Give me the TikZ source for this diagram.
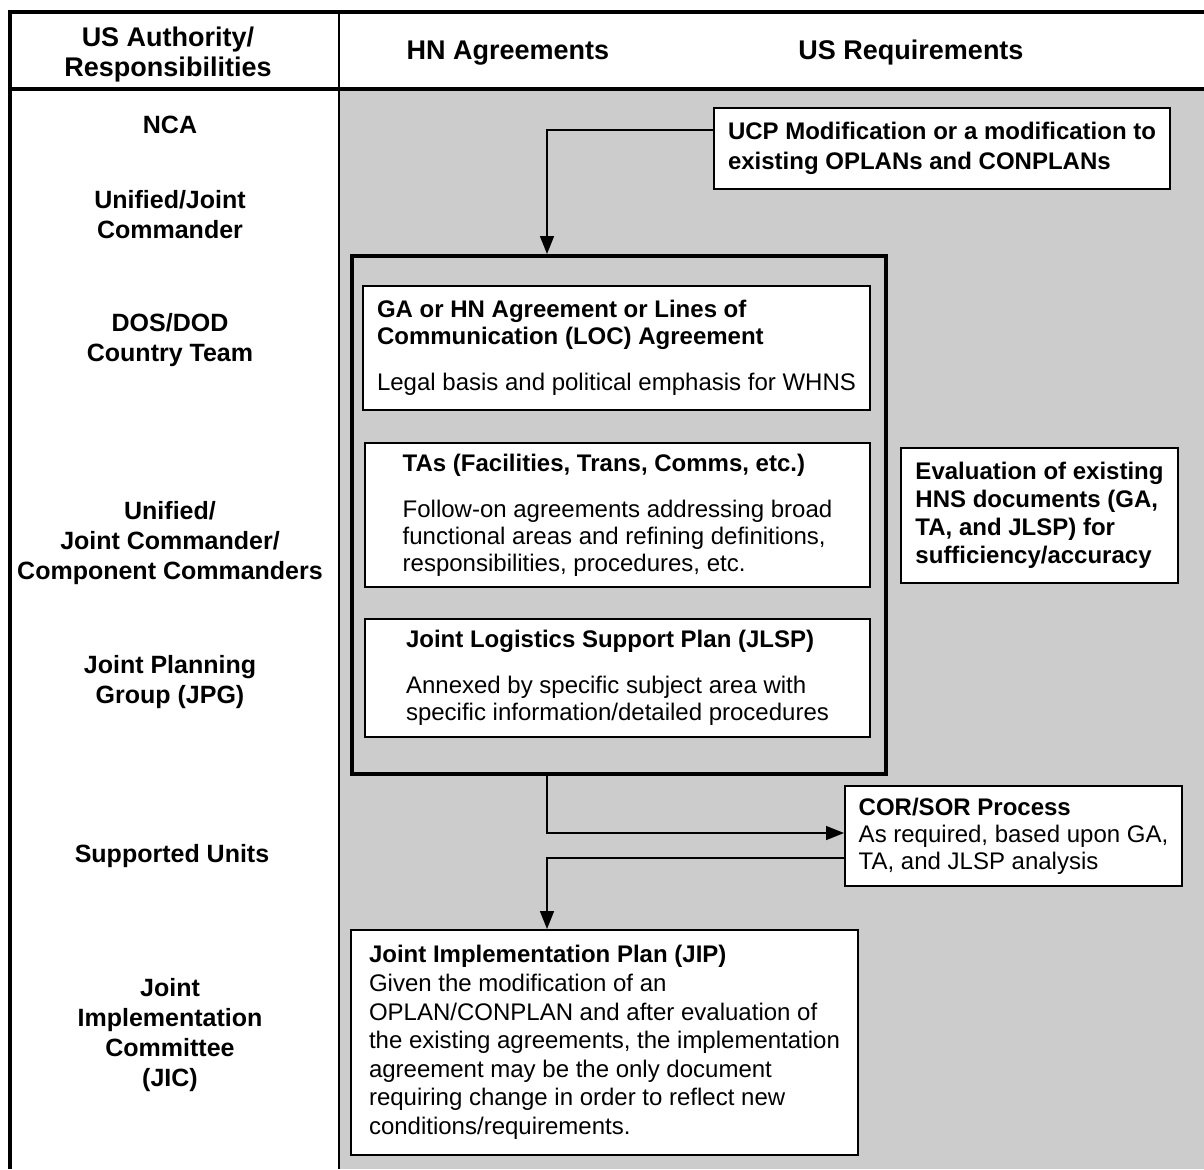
\documentclass[tikz,border=0pt]{standalone}
\usepackage{fontspec}
\setmainfont{Liberation Sans}
\usetikzlibrary{arrows.meta}
\tikzstyle{box} = [draw=black, line width=1pt, fill=white, align=left, inner sep=0pt, font={\fontsize{12}{13.5}\selectfont}]
\tikzstyle{group} = [draw=black, line width=2pt, inner sep=0pt]
\tikzstyle{lbl} = [align=center, font={\fontsize{12.5}{15}\selectfont\bfseries}]
\tikzstyle{hdr} = [align=center, font={\fontsize{13.5}{15}\selectfont\bfseries}]
\tikzstyle{arr} = [line width=0.8pt, -{Triangle[length=9pt,width=7pt]}]

\begin{document}
\begin{tikzpicture}[x=0.5pt,y=-0.5pt]
        \useasboundingbox (0,0) rectangle (1204,1169);
        \fill[black!20] (340,90) rectangle (1204,1169);
        \draw[line width=2pt] (8,12) -- (1204,12);
        \draw[line width=2pt] (10,11) -- (10,1169);
        \draw[line width=1.75pt] (10,89) -- (1204,89);
        \draw[line width=1pt] (339,12) -- (339,1169);
        \coordinate (spine) at (547,0);
        \node[hdr](h1) at (168,55){US Authority/\\Responsibilities};
        \node[hdr](h2) at (508,53){HN Agreements};
        \node[hdr](h3) at (911,53){US Requirements};
        \node[lbl](nca) at (170,125){NCA};
        \node[lbl](ujc) at (170,215){Unified/Joint\\Commander};
        \node[lbl](dos) at (170,340){DOS/DOD\\Country Team};
        \node[lbl](ucc) at (170,543){Unified/\\Joint Commander/\\Component Commanders};
        \node[lbl](jpg) at (170,682){Joint Planning\\Group (JPG)};
        \node[lbl](sup) at (172,856){Supported Units};
        \node[lbl](jic) at (170,1035){Joint\\Implementation\\Committee\\(JIC)};
        \node[box,minimum width=228pt,minimum height=40.5pt,font={\fontsize{12}{15}\selectfont\bfseries}](ucp) at (942,148.5){UCP Modification or a modification to\\existing OPLANs and CONPLANs};
        \node[group,minimum width=267pt,minimum height=259pt](grp) at (619,515){};
        \node[box,minimum width=253.5pt,minimum height=62pt](ga) at (616.5,348){\textbf{GA or HN Agreement or Lines of}\\\textbf{Communication (LOC) Agreement}\\[9.5pt]Legal basis and political emphasis for WHNS};
        \node[box,minimum width=252.5pt,minimum height=72pt](tas) at (617.5,515){\textbf{TAs (Facilities, Trans, Comms, etc.)}\\[9.5pt]Follow-on agreements addressing broad\\functional areas and refining definitions,\\responsibilities, procedures, etc.};
        \node[box,minimum width=252.5pt,minimum height=59pt](jlsp) at (617.5,678){\textbf{Joint Logistics Support Plan (JLSP)}\\[9.5pt]Annexed by specific subject area with\\specific information/detailed procedures};
        \node[box,minimum width=138.5pt,minimum height=67.5pt,font={\fontsize{12}{14}\selectfont\bfseries}](eval) at (1039.5,515.5){Evaluation of existing\\HNS documents (GA,\\TA, and JLSP) for\\sufficiency/accuracy};
        \node[box,minimum width=168.5pt,minimum height=50pt](cor) at (1013.5,836){\textbf{COR/SOR Process}\\As required, based upon GA,\\TA, and JLSP analysis};
        \node[box,minimum width=253.5pt,minimum height=112.5pt,font={\fontsize{12}{14.3}\selectfont}](jip) at (604.5,1042.5){\textbf{Joint Implementation Plan (JIP)}\\Given the modification of an\\OPLAN/CONPLAN and after evaluation of\\the existing agreements, the implementation\\agreement may be the only document\\requiring change in order to reflect new\\conditions/requirements.};
        \draw[arr]([yshift=9.25pt]ucp.west) -| (grp.north -| spine);
        \draw[arr](grp.south -| spine) |- ([yshift=1.5pt]cor.west);
        \draw[arr]([yshift=-11pt]cor.west) -| (jip.north -| spine);
      \end{tikzpicture}
\end{document}
